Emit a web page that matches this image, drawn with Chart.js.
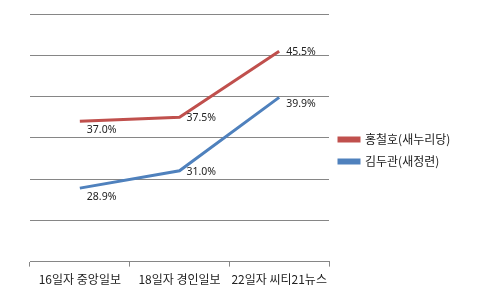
<!DOCTYPE html>
<html>
<head>
<meta charset="utf-8">
<script src="https://cdn.jsdelivr.net/npm/chart.js@4"></script>
<style>
  html, body { margin: 0; padding: 0; background: #fff; }
  #wrap { width: 500px; height: 300px; }
</style>
</head>
<body>
<div id="wrap"><canvas id="pollChart" width="500" height="300"></canvas></div>
<script>
// 여론조사 추이
const categories = ['16일자 중앙일보', '18일자 경인일보', '22일자 씨티21뉴스'];
const seriesNames = ['홍철호(새누리당)', '김두관(새정련)'];
const hongVals = [37.0, 37.5, 45.5];
const kimVals = [28.9, 31.0, 39.9];
const yTicks = [20, 25, 30, 35, 40, 45, 50];

const FONT = "'Noto Sans CJK KR', 'Noto Sans', sans-serif";
const LEGEND_W = 171;

// 범례 폭 고정 (그래프 영역 오른쪽 끝을 맞추기 위해), 조금 위로
const legendWidth = {
  id: 'legendWidth',
  afterInit(chart) {
    const lg = chart.legend;
    const fit = lg.fit;
    lg.fit = function () { fit.call(this); this.width = LEGEND_W; };
  },
  afterLayout(chart) {
    chart.legend.bottom -= 6;
  }
};

// 데이터 라벨 (점 오른쪽)
const valueLabels = {
  id: 'valueLabels',
  afterDatasetsDraw(chart) {
    const ctx = chart.ctx;
    ctx.save();
    ctx.font = "10.5px 'Noto Sans', sans-serif";
    ctx.fillStyle = '#222';
    ctx.textAlign = 'left';
    ctx.textBaseline = 'middle';
    chart.data.datasets.forEach((ds, di) => {
      chart.getDatasetMeta(di).data.forEach((pt, i) => {
        let dy = 1;
        if (i === 0) dy = 9;
        if (di === 1 && i === 2) dy = 7;
        ctx.fillText(ds.data[i].toFixed(1) + '%', pt.x + 7, pt.y + dy);
      });
    });
    ctx.restore();
  }
};

new Chart(document.getElementById('pollChart'), {
  type: 'line',
  data: {
    labels: categories,
    datasets: [
      { label: seriesNames[0], data: hongVals, borderColor: '#C0504D', backgroundColor: '#C0504D',
        borderWidth: 3, pointRadius: 0, tension: 0 },
      { label: seriesNames[1], data: kimVals, borderColor: '#4F81BD', backgroundColor: '#4F81BD',
        borderWidth: 3, pointRadius: 0, tension: 0 }
    ]
  },
  options: {
    responsive: false,
    animation: false,
    layout: { padding: { left: 30, top: 14, right: 0, bottom: 7 } },
    plugins: {
      legend: {
        position: 'right',
        align: 'center',
        labels: {
          boxWidth: 20, boxHeight: 3, padding: 10,
          color: '#222', font: { family: FONT, size: 12 }
        }
      },
      tooltip: { enabled: false }
    },
    scales: {
      x: {
        offset: true,
        grid: { offset: true, drawOnChartArea: false, drawTicks: true, tickLength: 5, color: '#868686' },
        border: { color: '#868686' },
        ticks: { color: '#222', font: { family: FONT, size: 12 }, padding: 6, maxRotation: 0 }
      },
      y: {
        min: 20, max: 50,
        afterBuildTicks: axis => { axis.ticks = yTicks.map(v => ({ value: v })); },
        grid: { color: '#868686', drawTicks: false },
        border: { display: false },
        ticks: { display: false }
      }
    }
  },
  plugins: [legendWidth, valueLabels]
});
</script>
</body>
</html>
